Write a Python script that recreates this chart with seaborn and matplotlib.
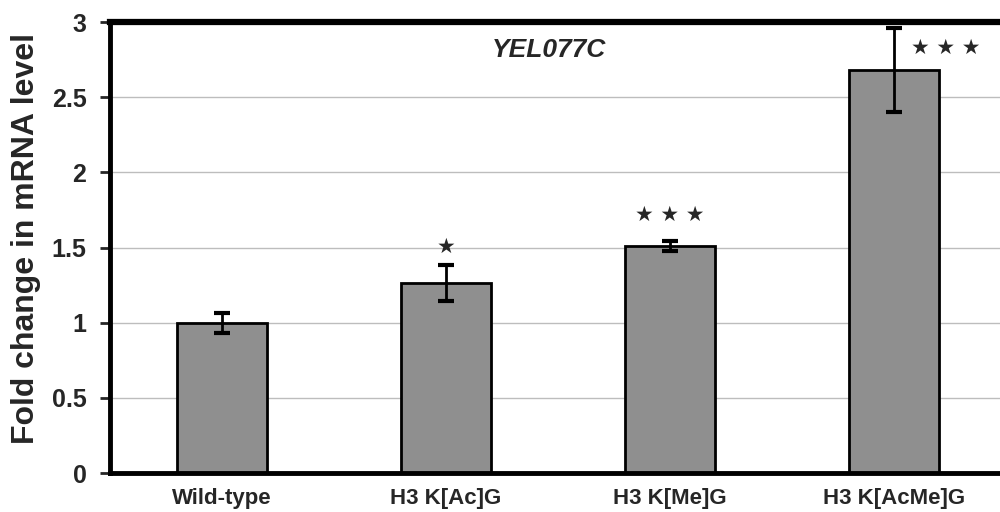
import matplotlib
matplotlib.use("Agg")
import matplotlib.pyplot as plt
import seaborn as sns
import pandas as pd
import numpy as np

categories = ["Wild-type", "H3 K[Ac]G", "H3 K[Me]G", "H3 K[AcMe]G"]
fold_change = [1.0, 1.265, 1.51, 2.68]
errors = [0.065, 0.12, 0.035, 0.28]
stars = ["", "★", "★ ★ ★", "★ ★ ★"]
y_ticks = [0, 0.5, 1, 1.5, 2, 2.5, 3]
y_tick_labels = ["0", "0.5", "1", "1.5", "2", "2.5", "3"]
title = "YEL077C"
ylabel = "Fold change in mRNA level"

sns.set_style("white")
plt.rcParams['font.family'] = ['Liberation Sans', 'DejaVu Sans']

df = pd.DataFrame({"category": categories, "value": fold_change})

fig = plt.figure(figsize=(10, 5.12), dpi=100)
ax = fig.add_axes([0.11, 0.076, 0.896, 0.881])

sns.barplot(data=df, x="category", y="value", color="#8f8f8f", width=0.4,
            edgecolor="black", linewidth=2, saturation=1, ax=ax, errorbar=None)
ax.errorbar(x=np.arange(len(categories)), y=fold_change, yerr=errors, fmt="none",
            ecolor="black", elinewidth=2, capsize=6, capthick=3, zorder=5)

# star annotation placement (x offset, y above error bar top)
star_place = {1: (0.0, 0.12), 2: (0.0, 0.175), 3: (0.23, None)}
for i, s in enumerate(stars):
    if not s:
        continue
    dx, dy = star_place[i]
    if dy is None:
        ypos = fold_change[i] + errors[i] - 0.13
    else:
        ypos = fold_change[i] + errors[i] + dy
    ax.text(i + dx, ypos, s, ha="center", va="center", fontsize=15,
            family="DejaVu Sans", zorder=6)

ax.set_ylim(0, 3)
ax.set_xlim(-0.5, 3.5)
ax.set_yticks(y_ticks)
ax.set_yticklabels(y_tick_labels, fontsize=18, fontweight="bold")
ax.yaxis.grid(True, color="#bdbdbd", linewidth=1)
ax.set_axisbelow(True)
ax.set_xlabel("")
ax.set_ylabel(ylabel, fontsize=23, fontweight="bold")
ax.yaxis.set_label_coords(-0.077, 0.52)
ax.set_xticks(range(len(categories)))
ax.set_xticklabels(categories, fontsize=16, fontweight="bold")
ax.tick_params(axis="x", which="major", length=0, pad=11)
ax.set_xticks([0.5, 1.5, 2.5], minor=True)
ax.tick_params(axis="x", which="minor", length=6, width=2, direction="out")
ax.tick_params(axis="y", length=7, width=2, direction="out", pad=10, left=True)

for side in ["left", "bottom"]:
    ax.spines[side].set_linewidth(3.5)
    ax.spines[side].set_color("black")
ax.spines["top"].set_linewidth(4.5)
ax.spines["top"].set_color("black")
ax.spines["right"].set_visible(False)

ax.text(0.49, 0.938, title, transform=ax.transAxes, ha="center", va="center",
        fontsize=19, fontweight="bold", fontstyle="italic")

fig.savefig("out.png", dpi=100)
